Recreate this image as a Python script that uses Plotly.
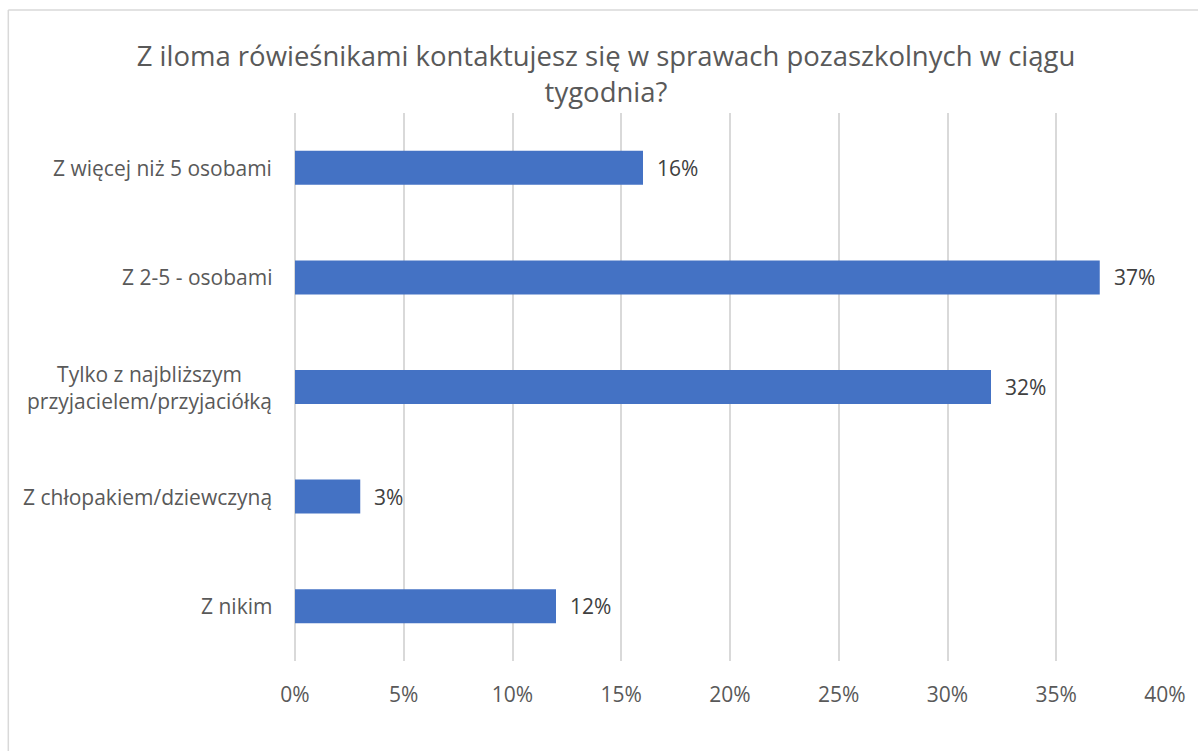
import plotly.graph_objects as go

# Survey answers (top to bottom) and their shares in percent
categories = [
    "Z więcej niż 5 osobami",
    "Z 2-5 - osobami",
    "Tylko z najbliższym<br>przyjacielem/przyjaciółką",
    "Z chłopakiem/dziewczyną",
    "Z nikim",
]
values = [16, 37, 32, 3, 12]
x_ticks = [0, 5, 10, 15, 20, 25, 30, 35, 40]
x_tick_labels = [f"{t}%" for t in x_ticks]

W, H = 1198, 751
ML, MR, MT, MB = 295, 29, 113, 90
FONT = "Open Sans, Segoe UI, sans-serif"
GRID = "#d9d9d9"
TXT = "#595959"
LBL = 21

fig = go.Figure(
    go.Bar(
        x=values,
        y=categories,
        orientation="h",
        marker=dict(color="#4472C4", line=dict(width=0)),
        width=0.31,
        hoverinfo="skip",
    )
)

# value labels right of each bar
for cat, v in zip(categories, values):
    fig.add_annotation(
        x=v, y=cat, xref="x", yref="y",
        text=f"{v}%", showarrow=False,
        xanchor="left", xshift=12,
        font=dict(family=FONT, size=LBL, color="#404040"),
    )

# category labels, centred line by line
for cat in categories:
    fig.add_annotation(
        x=0, y=cat, xref="paper", yref="y",
        text=cat, showarrow=False,
        xanchor="right", align="center", xshift=-21,
        font=dict(family=FONT, size=LBL, color=TXT),
    )

# chart frame (left and top edges)
px = lambda p: (p - ML) / (W - ML - MR)
py = lambda p: (H - MB - p) / (H - MT - MB)
fig.add_shape(type="line", xref="paper", yref="paper",
              x0=px(7), x1=px(7), y0=py(10), y1=py(800),
              line=dict(color=GRID, width=1.5))
fig.add_shape(type="line", xref="paper", yref="paper",
              x0=px(7), x1=px(1250), y0=py(10), y1=py(10),
              line=dict(color=GRID, width=1.5))

fig.update_layout(
    width=W, height=H,
    margin=dict(l=ML, r=MR, t=MT, b=MB),
    paper_bgcolor="white", plot_bgcolor="white",
    showlegend=False,
    bargap=0.69,
    title=dict(
        text="Z iloma rówieśnikami kontaktujesz się w sprawach pozaszkolnych w ciągu<br>tygodnia?",
        x=606 / W, xref="container", xanchor="center",
        y=1 - 66 / H, yref="container", yanchor="top",
        font=dict(family=FONT, size=27.5, color=TXT),
    ),
    xaxis=dict(
        range=[0, 40],
        tickvals=x_ticks, ticktext=x_tick_labels,
        showgrid=True, gridcolor=GRID, gridwidth=1.5,
        zeroline=True, zerolinecolor=GRID, zerolinewidth=1.5,
        showline=False, ticks="",
        ticklabelstandoff=19,
        tickfont=dict(family=FONT, size=LBL, color=TXT),
        fixedrange=True,
    ),
    yaxis=dict(
        categoryorder="array", categoryarray=categories[::-1],
        showticklabels=False, showgrid=False, zeroline=False,
        showline=False, ticks="",
        range=[-0.5, 4.5],
        fixedrange=True,
    ),
)

fig.write_html("out.html", config={"displayModeBar": False})
